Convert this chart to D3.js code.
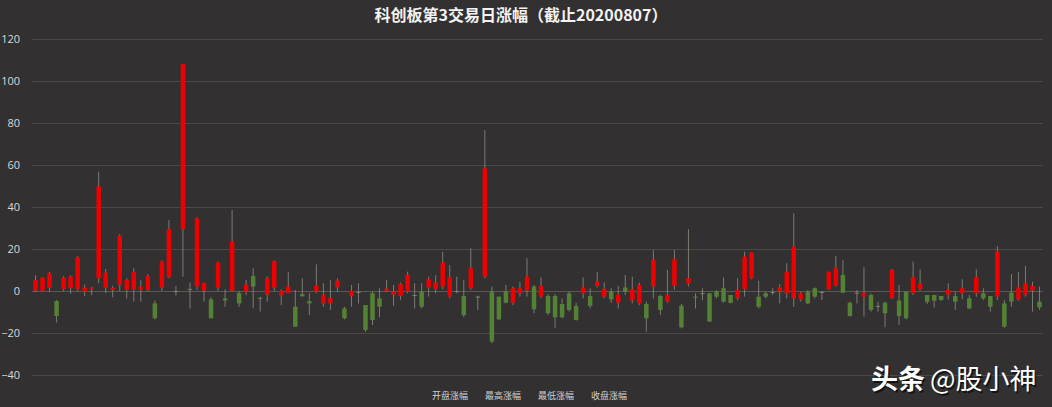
<!DOCTYPE html>
<html><head><meta charset="utf-8">
<script src="https://cdn.jsdelivr.net/npm/d3@7"></script>
<style>
html,body{margin:0;padding:0;background:#323030;}
svg{display:block;}
</style></head>
<body>
<svg id="chart" width="1052" height="407"></svg>
<script>
const title = "科创板第3交易日涨幅（截止20200807）";
const seriesNames = ["开盘涨幅", "最高涨幅", "最低涨幅", "收盘涨幅"];
const yTicks = [-40, -20, 0, 20, 40, 60, 80, 100, 120];

const openVals = [0,0,1.5,-4.8,0.8,1.3,0.8,-0.3,0.8,6,1.6,0.5,2.9,0.5,0.7,0.5,0.5,-5.9,1.6,6.5,
0,29.4,1,2,0,-4,1.6,-3.5,0,-1,-0.3,7.1,-3.2,-1.9,1.6,-2,-1,-7.5,-1.5,-4.8,
-0.3,-5.9,-5.9,1.7,-8.3,-2.4,-0.5,-6.7,-1.1,-3.5,0,-1.9,-2.4,-0.3,-2,-0.3,1.7,0.8,2,-2.7,
0,-2.4,1.3,-2.7,6.8,-0.3,-2.7,-0.3,-5.6,-1.1,0.2,2.1,-2.7,-2.4,-2.4,-6.2,-1.1,-7.1,-1.1,-2.4,
2.4,-2.7,-0.3,-5.6,1.7,-4.6,-5.9,-6.2,2.1,-2.4,-5.1,2.4,-7,3.5,-2.7,-1.1,-1.1,-0.3,1.3,-1.9,
-3.5,0.8,6,-2.7,-1.1,-0.5,-0.3,-1.1,-3.5,-4,-0.3,1.3,-0.5,0.8,2.4,7.6,-5.6,-0.8,-2.7,-1.9,
-7.1,-5.6,-3.5,-4.6,-0.3,-1.1,0.8,-1.9,-1.9,-2.4,-1.9,-2.4,-1.1,-3.5,-1.1,-1.1,-2.4,-2.7,-5.9,-0.8,
-4,-1.9,0.2,-5.1];
const highVals = [7.5,6.5,9,-4.3,7,7.5,16.5,3,2,56.8,10.5,2.5,27,6,10.8,5.2,8,-4.5,14.5,33.8,
2.4,108.1,4,35,4,-3,14,0.8,38.6,0,5.3,10.8,-2.7,7,14.5,0.8,8.9,0.5,6,-1,
12.7,3.7,5.2,6,-7.5,2.9,3.7,-6.7,-0.3,1.3,5.2,2.9,4,9.2,3.7,3.7,6.8,7.6,18.7,12.4,
6.8,5.2,20.3,-2.2,76.7,2.1,-2.7,2.9,2.1,4.4,15.6,2.9,6.5,-1.4,-1.4,-3.5,-0.3,-5.6,6.5,1.3,
9.2,4,1.3,2.4,7.6,6.8,4,-5.1,19.5,-1.9,10,19.5,-6.2,29.4,-1.1,1.3,-1.1,0.5,6.5,-1.9,
6,18.7,18.3,4.9,-0.3,1.3,3.3,13.2,37,-0.3,0.5,1.7,0,9.2,16.7,14.8,-5.1,0.5,11.3,-1.1,
-5.1,-5.1,10.5,2.9,-0.3,14,10.3,-1.9,-1.9,-2.4,3.7,-0.3,5.6,-1.9,10.3,1.3,-2.4,21.4,-4.3,8.1,
9.2,11.9,4.4,2.1];
const lowVals = [-0.5,0,-0.5,-15,0,-1.3,0,-2.5,-2,3.7,-1,-3,0,-3.5,-5,-5,0,-13.5,0,6,
-2.2,6.8,-8.3,0.5,-5,-13,0,-7.5,0,-7.5,-2,-8.3,-9.8,-5,0,-6.7,-1,-17,-2.7,-11.5,
-1.1,-7.5,-9,-0.3,-13.5,-7.5,-5.9,-19.4,-16.2,-12.5,-0.3,-7.1,-4.3,-1.1,-8.3,-8.3,-2.7,-1.1,0.8,-3.5,
-1.1,-12.5,0.5,-9,6,-24.9,-13.8,-5.9,-6.7,-2.7,-2.7,-10.6,-3.5,-11.4,-17.5,-13,-9.8,-14.1,-3.5,-8.3,
1.7,-3.5,-5.6,-8.3,-1.9,-5.9,-6.7,-19.4,-3.5,-11.4,-5.6,0.5,-17.8,2.1,-8.3,-4.3,-14.6,-3.5,-5.6,-5.9,
-4.3,-2.7,5.6,-8.3,-3.5,-1.9,-5.9,-3.5,-7.5,-5.1,-6.2,-3.5,-4.3,0.5,2.1,-1.1,-12.2,-5.9,-12.2,-9.8,
-9.8,-17.3,-3.8,-16.2,-13.5,-1.9,0.2,-6.2,-7.8,-4.6,-4,-9,-4,-8.7,-2.7,-4.3,-9.8,-4.3,-17.5,-7.5,
-4.6,-2.7,-9.8,-9];
const closeVals = [5.2,6.3,8.4,-11.9,6.3,6.8,15.9,1.6,1.6,49.7,8.7,1.5,26.2,5.2,9,2,7.1,-13,14,29.4,
0,108.1,1,34.6,3.7,-13,13.5,-4.5,23.5,-5.9,2.9,2.1,-3.8,6,14,0,2,-17,-2.5,-5.9,
2.4,-1.9,-3.5,4.9,-13,0,-0.5,-18.6,-13.8,-7.5,1,-0.3,3.3,7.6,-2,-7.5,5.6,4,13.5,6.5,
0,-11.4,10.8,-2.7,58.4,-24.1,-13.5,-5.6,1.3,1.3,6.8,-8.7,2.4,-10.6,-12.5,-12.5,-9,-13.8,1.7,-7.1,
4.4,0.8,-4,-1.9,-0.3,0.8,2.9,-13,14.8,-9,-1.9,15.1,-17.3,6,-3.2,-1.1,-14.6,-2.7,-5.1,-5.6,
0.5,16.3,18.3,-7.5,-2.7,-0.5,1.7,9.2,21.1,-1.1,-5.9,-2.7,-0.5,9.2,10.8,-0.8,-11.9,-0.8,-1.1,-9,
-7.1,-10.6,10,-11.9,-13,6.5,3.3,-5.1,-4.6,-4.3,0.5,-5.1,1.3,-8.3,6.5,-3.5,-7.5,18.7,-17,-5.1,
1.7,3.7,2.4,-7.8];
const categories = openVals.map((_, i) => String(i + 1));

const svg = d3.select("#chart");
const W = 1052, H = 407;
svg.append("rect").attr("width", W).attr("height", H).attr("fill", "#323030");

const x = d3.scaleBand().domain(categories).range([32, 1043]).padding(0);
const y = d3.scaleLinear().domain([-40, 120]).range([375, 39]);

// gridlines
svg.append("g").selectAll("line").data(yTicks).join("line")
  .attr("x1", 32).attr("x2", 1043)
  .attr("y1", d => Math.round(y(d)) + 0.5).attr("y2", d => Math.round(y(d)) + 0.5)
  .attr("stroke", d => d === 0 ? "#5a5757" : "#4b4848").attr("stroke-width", 1);

// y axis labels
const yAxis = d3.axisLeft(y).tickValues(yTicks).tickSize(0).tickPadding(0);
const ga = svg.append("g").attr("transform", "translate(20,0)").call(yAxis);
ga.select(".domain").remove();
ga.selectAll("text").attr("fill", "#d9d9d9").attr("font-size", "11px")
  .attr("font-family", "'Open Sans', 'Noto Sans', sans-serif");

// candles
const data = categories.map((c, i) => ({c, o: openVals[i], h: highVals[i], l: lowVals[i], cl: closeVals[i]}));
const bw = x.bandwidth() * 0.64;
const g = svg.append("g");
g.selectAll("line.wick").data(data).join("line").attr("class", "wick")
  .attr("x1", d => x(d.c) + x.bandwidth() / 2).attr("x2", d => x(d.c) + x.bandwidth() / 2)
  .attr("y1", d => y(d.h)).attr("y2", d => y(d.l))
  .attr("stroke", "#9a9a8c").attr("stroke-width", 0.9).attr("opacity", 0.8);
g.selectAll("rect.body").data(data).join("rect").attr("class", "body")
  .attr("x", d => x(d.c) + (x.bandwidth() - bw) / 2)
  .attr("width", bw)
  .attr("y", d => y(Math.max(d.o, d.cl)))
  .attr("height", d => Math.max(0.8, Math.abs(y(d.o) - y(d.cl))))
  .attr("fill", d => d.cl > d.o ? "#ee0000" : (d.cl < d.o ? "#548235" : "#8a8a80"));

// title
svg.append("text").attr("x", 521).attr("y", 21).attr("text-anchor", "middle")
  .attr("font-family", "'Noto Sans CJK SC', sans-serif").attr("font-weight", "bold")
  .attr("font-size", "16px").attr("fill", "#f2f2f2").text(title);

// legend
const legX = [432, 485, 538, 591];
svg.append("g").selectAll("text").data(seriesNames).join("text")
  .attr("x", (d, i) => legX[i]).attr("y", 399)
  .attr("font-family", "'Noto Sans CJK SC', sans-serif").attr("font-size", "9px")
  .attr("fill", "#d0d0d0").text(d => d);

// watermark
const wm = svg.append("g").attr("font-family", "'Noto Sans CJK SC', sans-serif").attr("font-size", "27px");
[["#000", 1.5, 1.5, 0.6], ["#ffffff", 0, 0, 1]].forEach(([col, dx, dy, op]) => {
  const t = wm.append("text").attr("x", 871 + dx).attr("y", 389 + dy).attr("fill", col).attr("opacity", op);
  t.append("tspan").attr("font-weight", "bold").text("头条");
  t.append("tspan").attr("dx", 5).text("@股小神");
});
</script>
</body></html>
